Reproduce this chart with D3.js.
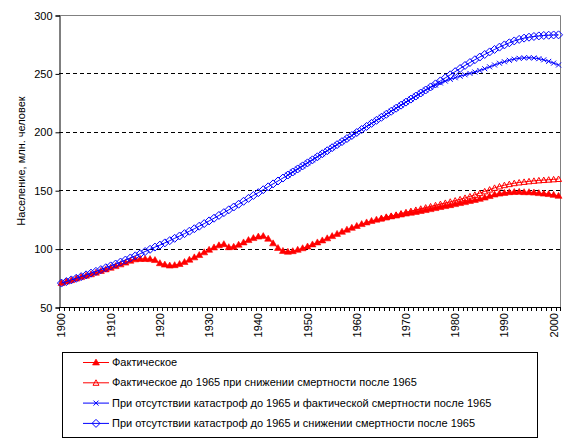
<!DOCTYPE html>
<html>
<head>
<meta charset="utf-8">
<script src="https://cdn.jsdelivr.net/npm/d3@7"></script>
<style>
  body { margin: 0; background: #fff; }
  text { font-family: Arial, "Liberation Sans", sans-serif; font-size: 11px; fill: #000; }
</style>
</head>
<body>
<svg id="viz" width="576" height="443"></svg>
<script>
// categories: one per year
const years = d3.range(1900, 2002);
const decadeLabels = [1900, 1910, 1920, 1930, 1940, 1950, 1960, 1970, 1980, 1990, 2000];
const yTicks = [50, 100, 150, 200, 250, 300];

// Фактическое, 1900-2001
const actual = [
  70.5, 71.8, 73.0, 74.3, 75.6, 76.8, 78.0, 79.4, 80.8, 82.2,
  83.6, 85.0, 86.5, 88.0, 89.6, 90.8, 91.2, 91.2, 91.0, 90.2,
  87.5, 86.3, 85.5, 85.8, 86.8, 88.5, 90.5, 92.5, 94.5, 96.8,
  99.0, 101.0, 102.8, 103.8, 101.2, 101.5, 103.3, 105.3, 107.3, 109.0,
  110.3, 110.7, 108.5, 104.5, 100.5, 98.0, 97.3, 97.8, 99.0, 100.3,
  101.8, 103.6, 105.3, 107.0, 108.8, 110.7, 112.6, 114.4, 116.2, 117.8,
  119.4, 121.0, 122.4, 123.7, 124.8, 125.8, 126.8, 127.6, 128.3, 129.2,
  130.0, 130.7, 131.4, 132.2, 133.0, 133.8, 134.7, 135.6, 136.4, 137.2,
  138.1, 139.0, 139.8, 140.8, 141.7, 142.6, 143.7, 145.0, 146.3, 147.1,
  147.7, 148.3, 148.5, 148.6, 148.3, 148.3, 148.0, 147.5, 147.1, 146.7,
  146.0, 145.2
];

// Фактическое до 1965 при снижении смертности после 1965, 1965-2001
const lowMortStart = 1965;
const lowMort = [
  125.8, 126.9, 127.9, 128.9, 130.0, 131.1, 132.1, 133.1, 134.1, 135.1,
  136.1, 137.1, 138.1, 139.1, 140.1, 141.1, 142.2, 143.4, 144.7, 146.0,
  147.5, 149.0, 150.5, 152.0, 153.2, 154.3, 155.2, 156.0, 156.6, 157.1,
  157.6, 158.0, 158.4, 158.7, 159.0, 159.3, 159.6
];

// При отсутствии катастроф до 1965 и фактической смертности после 1965, 1946-2001
const noCatActualStart = 1946;
const noCatActual = [
  163.0, 165.6, 168.2, 170.8,
  173.4, 176.0, 178.6, 181.2, 183.8, 186.4, 189.0, 191.6, 194.2, 196.8,
  199.4, 202.0, 204.6, 207.2, 209.8, 212.4, 215.0, 217.6, 220.2, 222.8,
  225.4, 228.0, 230.6, 233.2, 235.8, 238.0, 240.0, 241.8, 243.4, 244.9,
  246.3, 247.6, 248.8, 250.0, 251.2, 252.5, 254.0, 255.6, 257.2, 258.7,
  260.0, 261.2, 262.2, 262.9, 263.3, 263.4, 263.2, 262.6, 261.6, 260.3,
  258.8, 257.2
];

// При отсутствии катастроф до 1965 и снижении смертности после 1965, 1900-2001
const noCatLow = [
  70.5, 71.8, 73.2, 74.6, 76.0, 77.5, 79.0, 80.5, 82.0, 83.6,
  85.2, 86.8, 88.5, 90.2, 92.0, 93.8, 95.6, 97.5, 99.4, 101.3,
  103.0, 104.9, 106.8, 108.8, 110.8, 112.8, 114.9, 117.0, 119.2, 121.4,
  123.7, 126.0, 128.4, 130.8, 133.2, 135.6, 138.0, 140.5, 143.0, 145.5,
  147.9, 150.4, 152.9, 155.4, 157.9, 160.4, 163.0, 165.6, 168.2, 170.8,
  173.4, 176.0, 178.6, 181.2, 183.8, 186.4, 189.0, 191.6, 194.2, 196.8,
  199.4, 202.0, 204.6, 207.2, 209.8, 212.4, 215.0, 217.6, 220.2, 222.8,
  225.4, 228.0, 230.6, 233.2, 235.8, 238.4, 241.0, 243.6, 246.2, 248.8,
  251.5, 254.2, 256.8, 259.3, 261.7, 264.0, 266.2, 268.4, 270.5, 272.5,
  274.4, 276.2, 277.8, 279.1, 280.2, 281.0, 281.6, 282.1, 282.5, 282.7,
  282.9, 283.0
];

const legendLabels = [
  "Фактическое",
  "Фактическое до 1965 при снижении смертности после 1965",
  "При отсутствии катастроф до 1965 и фактической смертности после 1965",
  "При отсутствии катастроф до 1965 и снижении смертности после 1965"
];

const svg = d3.select("#viz");
const pLeft = 59, pRight = 561, pTop = 15, pBottom = 307;

const x = d3.scaleBand().domain(years).range([pLeft, pRight]).padding(0);
const cx = (yr) => x(yr) + x.bandwidth() / 2;
const y = d3.scaleLinear().domain([50, 300]).range([pBottom, pTop]);

// gridlines
svg.append("g")
  .selectAll("line")
  .data(yTicks.filter((t) => t > 50 && t < 300))
  .join("line")
  .attr("x1", pLeft).attr("x2", pRight)
  .attr("y1", (d) => Math.round(y(d)) + 0.5).attr("y2", (d) => Math.round(y(d)) + 0.5)
  .attr("stroke", "#000")
  .attr("stroke-dasharray", "4,3");

// plot area border (top/right gray)
svg.append("path")
  .attr("d", `M${pLeft},${pTop + 0.5}H${pRight - 0.5}V${pBottom}`)
  .attr("fill", "none")
  .attr("stroke", "#808080");

// y axis
const yAxis = d3.axisLeft(y).tickValues(yTicks).tickSize(4).tickPadding(3);
const gy = svg.append("g").attr("transform", `translate(${pLeft + 0.5},0.5)`).call(yAxis);
gy.select(".domain").attr("stroke", "#000");
gy.selectAll("text").style("font-size", "11px");

// x axis: ticks at category boundaries
const gx = svg.append("g");
gx.append("line")
  .attr("x1", pLeft).attr("x2", pRight)
  .attr("y1", pBottom + 0.5).attr("y2", pBottom + 0.5)
  .attr("stroke", "#000");
gx.selectAll("line.tk")
  .data(years.concat([2002]))
  .join("line")
  .attr("class", "tk")
  .attr("x1", (d) => Math.round(d === 2002 ? pRight - 1 : x(d)) + 0.5)
  .attr("x2", (d) => Math.round(d === 2002 ? pRight - 1 : x(d)) + 0.5)
  .attr("y1", pBottom).attr("y2", pBottom + 4)
  .attr("stroke", "#000");
gx.selectAll("text")
  .data(decadeLabels)
  .join("text")
  .attr("transform", (d) => `translate(${cx(d) + 4},${pBottom + 6}) rotate(-90)`)
  .attr("text-anchor", "end")
  .text((d) => d);

// y title
svg.append("text")
  .attr("transform", `translate(25,${(pTop + pBottom) / 2}) rotate(-90)`)
  .attr("text-anchor", "middle")
  .text("Население, млн. человек");

// markers
const markers = {
  triFill: (g) => g.append("path").attr("d", "M0,-3.5L3.5,2.5L-3.5,2.5Z").attr("fill", "#ff0000").attr("stroke", "#ff0000").attr("stroke-width", 0.6),
  triOpen: (g) => g.append("path").attr("d", "M0,-3L3,2.5L-3,2.5Z").attr("fill", "none").attr("stroke", "#ff0000"),
  cross: (g) => g.append("path").attr("d", "M-2.5,-2.5L2.5,2.5M-2.5,2.5L2.5,-2.5").attr("fill", "none").attr("stroke", "#0000ff"),
  diamond: (g) => g.append("path").attr("d", "M0,-4L4,0L0,4L-4,0Z").attr("fill", "none").attr("stroke", "#0000ff")
};

const series = [
  { start: 1900, values: actual, color: "#ff0000", marker: "triFill" },
  { start: lowMortStart, values: lowMort, color: "#ff0000", marker: "triOpen" },
  { start: noCatActualStart, values: noCatActual, color: "#0000ff", marker: "cross" },
  { start: 1900, values: noCatLow, color: "#0000ff", marker: "diamond" }
];

const line = d3.line().x((d) => cx(d.year)).y((d) => y(d.value));

series.forEach((s) => {
  const pts = s.values.map((v, i) => ({ year: s.start + i, value: v }));
  svg.append("path")
    .datum(pts)
    .attr("d", line)
    .attr("fill", "none")
    .attr("stroke", s.color)
    .attr("stroke-width", 1);
  svg.append("g")
    .selectAll("g")
    .data(pts)
    .join("g")
    .attr("transform", (d) => `translate(${cx(d.year)},${y(d.value)})`)
    .each(function () { markers[s.marker](d3.select(this)); });
});

// legend
const lg = svg.append("g");
lg.append("rect")
  .attr("x", 62.5).attr("y", 352.5)
  .attr("width", 475).attr("height", 85)
  .attr("fill", "#fff").attr("stroke", "#000");
legendLabels.forEach((lbl, i) => {
  const ly = 362 + i * 20.3;
  lg.append("line")
    .attr("x1", 83).attr("x2", 109)
    .attr("y1", ly + 0.5).attr("y2", ly + 0.5)
    .attr("stroke", series[i].color);
  markers[series[i].marker](lg.append("g").attr("transform", `translate(96,${ly + 0.5})`));
  lg.append("text")
    .attr("x", 112).attr("y", ly + 4)
    .text(lbl);
});
</script>
</body>
</html>
